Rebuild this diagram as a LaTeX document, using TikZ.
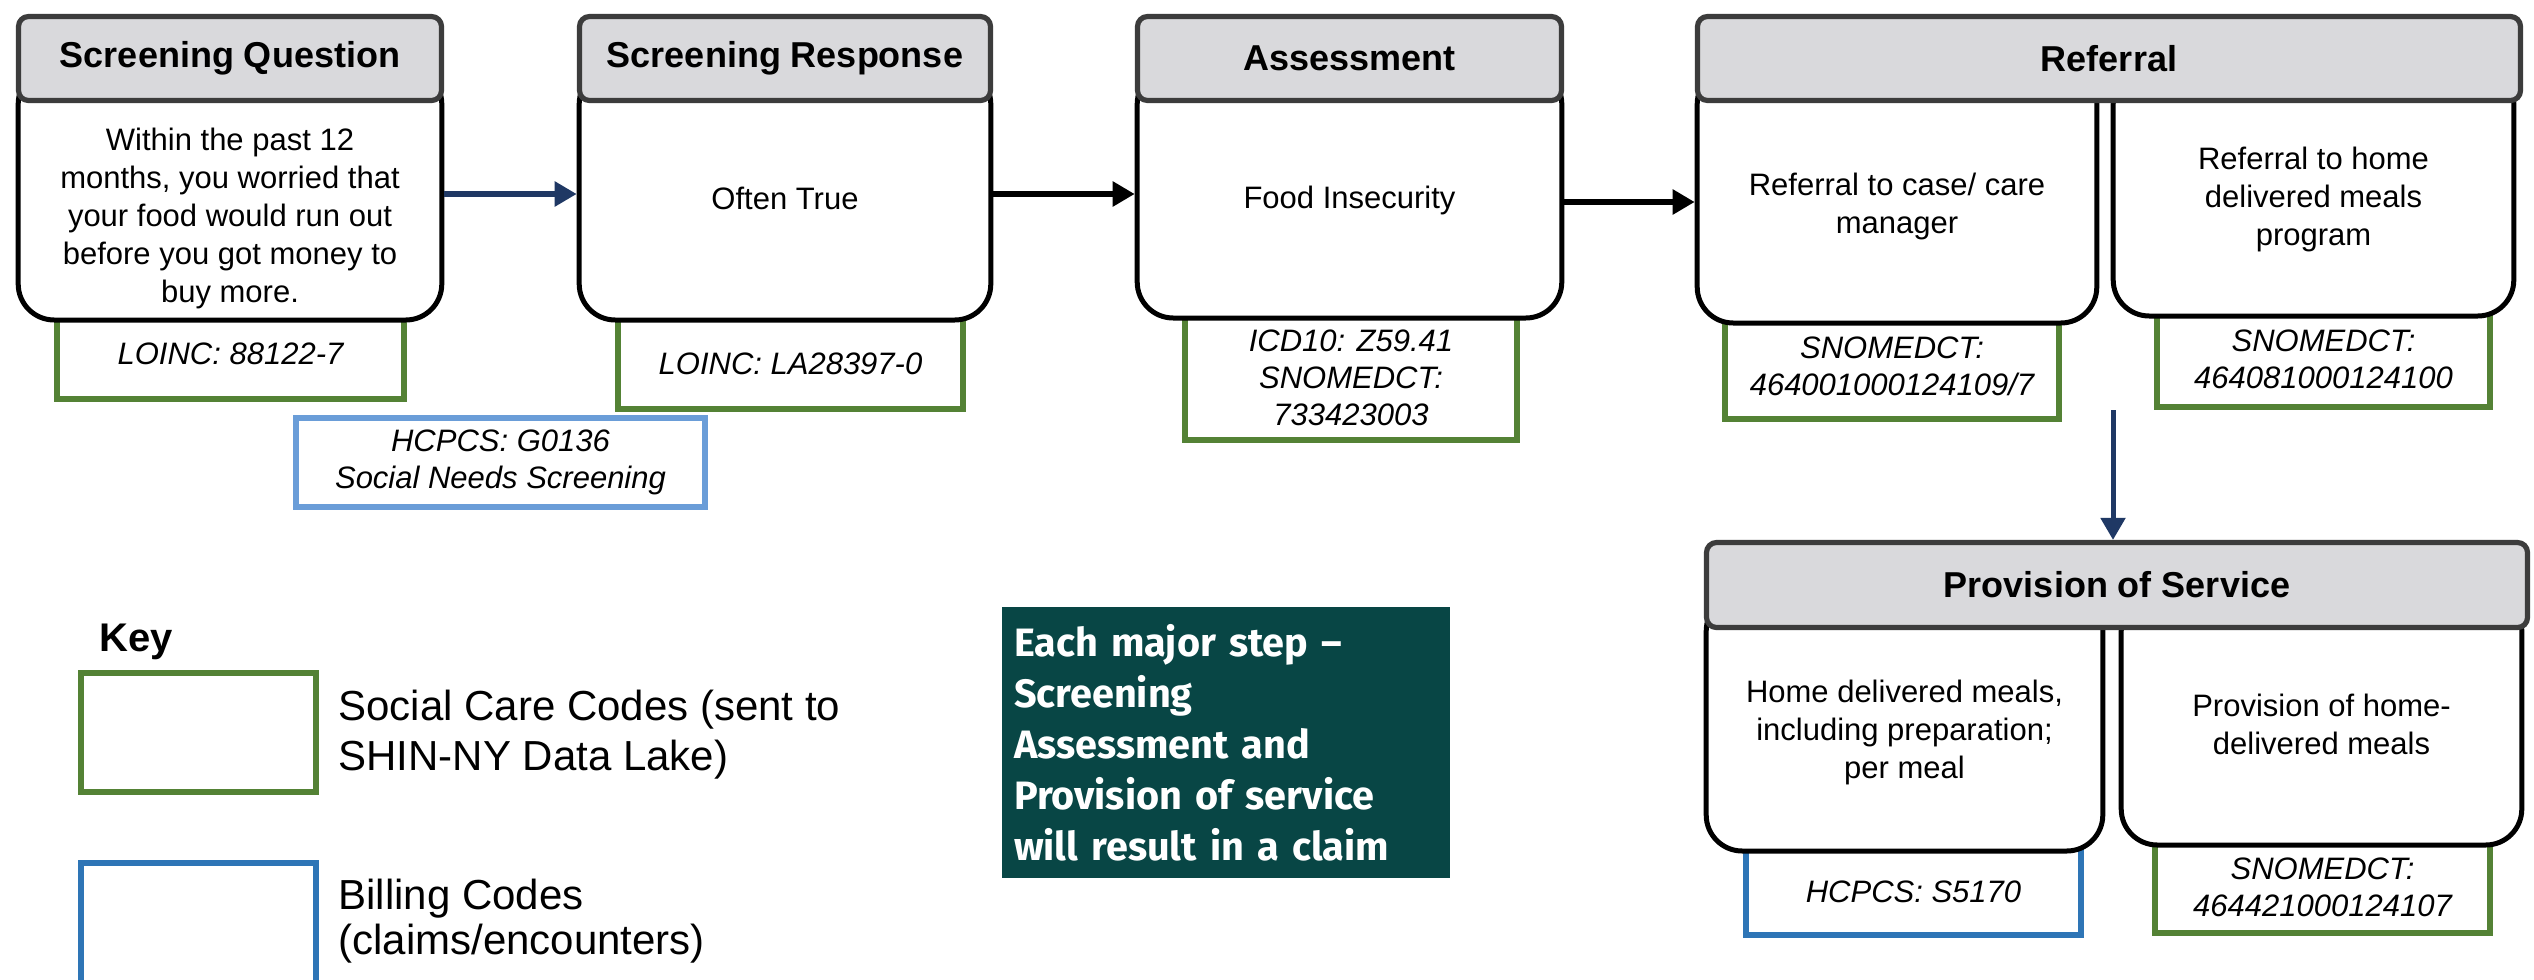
\documentclass[tikz,border=0pt]{standalone}
\usepackage{fontspec}
\setmainfont{Liberation Sans}
\newfontfamily\notefont{Fira Sans}
\usetikzlibrary{arrows.meta}

\definecolor{hdrgray}{RGB}{217,217,220}
\definecolor{hdrline}{RGB}{60,60,60}
\definecolor{codegreen}{RGB}{84,130,53}
\definecolor{billblue}{RGB}{46,117,182}
\definecolor{lightblue}{RGB}{106,157,216}
\definecolor{navyarrow}{RGB}{31,56,100}
\definecolor{notebg}{RGB}{8,70,69}

\tikzset{
  stephead/.style={draw=hdrline, line width=2.6pt, fill=hdrgray, rounded corners=5pt, inner sep=0pt,
    font=\fontsize{18}{21}\selectfont\bfseries},
  stepbody/.style={draw=black, line width=2.5pt, fill=white, rounded corners=18pt, inner sep=0pt},
  bodytxt/.style={align=center, inner sep=0pt, font=\fontsize{15.5}{19}\selectfont},
  codebox/.style={draw=codegreen, line width=3pt, fill=white, align=center, inner sep=0pt,
    font=\fontsize{15.5}{18.5}\selectfont\itshape},
  billbox/.style={codebox, draw=billblue},
  flow/.style={line width=3pt, -{Triangle[length=11pt,width=12pt]}},
}

\begin{document}
\begin{tikzpicture}[x=0.5pt,y=0.5pt,yscale=-1]
  \fill[white] (0,0) rectangle (2534,980);
  \useasboundingbox (0,0) rectangle (2534,980);

  % code boxes (tops tucked under the step bodies)
  \node[codebox, minimum width=173.5pt, minimum height=45.5pt] (qcode) at (230.5,353.5) {LOINC: 88122-7};
  \node[codebox, minimum width=172.5pt, minimum height=45.5pt] (rcode) at (790.5,363.5) {LOINC: LA28397-0};
  \node[billbox, draw=lightblue, minimum width=204.5pt, minimum height=44.5pt] (scrbill) at (500.5,462.5) {HCPCS: G0136\\Social Needs Screening};
  \node[codebox, minimum width=166pt, minimum height=62pt] (acode) at (1351,378) {ICD10: Z59.41\\SNOMEDCT:\\733423003};
  \node[codebox, minimum width=167pt, minimum height=52.5pt] (fcode1) at (1892,366.5) {SNOMEDCT:\\464001000124109/7};
  \node[codebox, minimum width=166.5pt, minimum height=47.5pt] (fcode2) at (2323.5,359.5) {SNOMEDCT:\\464081000124100};
  \node[billbox, minimum width=167.5pt, minimum height=43.5pt] (pbill) at (1913.5,891.5) {HCPCS: S5170};
  \node[codebox, minimum width=167.5pt, minimum height=46pt] (pcode2) at (2322.5,887) {SNOMEDCT:\\464421000124107};

  % step bodies
  \node[stepbody, minimum width=211.8pt, minimum height=126pt] (qbody) at (230,194) {};
  \node[stepbody, minimum width=205.8pt, minimum height=126pt] (rbody) at (785,194) {};
  \node[stepbody, minimum width=212.3pt, minimum height=125pt] (abody) at (1349.5,193) {};
  \node[stepbody, minimum width=199.8pt, minimum height=127.5pt] (fbody1) at (1897,195.5) {};
  \node[stepbody, minimum width=200.3pt, minimum height=124pt] (fbody2) at (2313.5,192) {};
  \node[stepbody, minimum width=198.3pt, minimum height=128pt] (pbody1) at (1904.5,723) {};
  \node[stepbody, minimum width=200.3pt, minimum height=125pt] (pbody2) at (2321.5,720) {};

  % Text Node
  \node[bodytxt] (qtxt) at (230,218) {Within the past 12\\months, you worried that\\your food would run out\\before you got money to\\buy more.};
  \node[bodytxt] (rtxt) at (785,198) {Often True};
  \node[bodytxt] (atxt) at (1349.5,200) {Food Insecurity};
  \node[bodytxt] (ftxt1) at (1897,206) {Referral to case/ care\\manager};
  \node[bodytxt] (ftxt2) at (2313.5,199) {Referral to home\\delivered meals\\program};
  \node[bodytxt] (ptxt1) at (1904.5,732) {Home delivered meals,\\including preparation;\\per meal};
  \node[bodytxt] (ptxt2) at (2321.5,724) {Provision of home-\\delivered meals};

  % step headers
  \node[stephead, minimum width=211.5pt, minimum height=42pt] (qhead) at (230,58.5) {Screening Question};
  \node[stephead, minimum width=205.5pt, minimum height=42pt] (rhead) at (785,58.5) {Screening Response};
  \node[stephead, minimum width=212pt, minimum height=42pt] (ahead) at (1349.5,58.5) {Assessment};
  \node[stephead, minimum width=411.5pt, minimum height=42pt] (fhead) at (2109,58.5) {Referral};
  \node[stephead, minimum width=410.5pt, minimum height=42.5pt] (phead) at (2117,585) {Provision of Service};

  % arrows
  \draw[flow, draw=navyarrow] (qbody.east) -- (qbody.east -| rbody.west);
  \draw[flow] (rbody.east) -- (rbody.east -| abody.west);
  \coordinate (aout) at (abody.east |- 0,202);
  \draw[flow] (aout) -- (aout -| fbody1.west);
  \coordinate (fout) at (2113,410);
  \draw[flow, draw=navyarrow, line width=2.5pt] (fout) -- (fout |- phead.north);

  % key
  \node[anchor=west, inner sep=0pt, font=\fontsize{20}{24}\selectfont\bfseries] (keytitle) at (99,642) {Key};
  \node[draw=codegreen, line width=3pt, minimum width=117.5pt, minimum height=59.5pt] (keygreen) at (198.5,732.5) {};
  \node[draw=billblue, line width=3pt, minimum width=117.5pt, minimum height=73.5pt] (keyblue) at (198.5,936.5) {};
  \node[anchor=west, align=left, inner sep=0pt, font=\fontsize{21}{25}\selectfont] (keygreentxt) at (338,735) {Social Care Codes (sent to\\SHIN-NY Data Lake)};
  \node[anchor=west, align=left, inner sep=0pt, font=\fontsize{21}{22.5}\selectfont] (keybluetxt) at (338,921.5) {Billing Codes\\(claims/encounters)};

  % note
  \node[fill=notebg, text=white, minimum width=224pt, minimum height=135.5pt, text width=212pt, inner sep=6pt,
    align=left, font=\notefont\bfseries\fontsize{19.8}{25.5}\selectfont] (note) at (1226,742.5)
    {Each major step –\\Screening\\Assessment and\\Provision of service\\will result in a claim};
\end{tikzpicture}
\end{document}
